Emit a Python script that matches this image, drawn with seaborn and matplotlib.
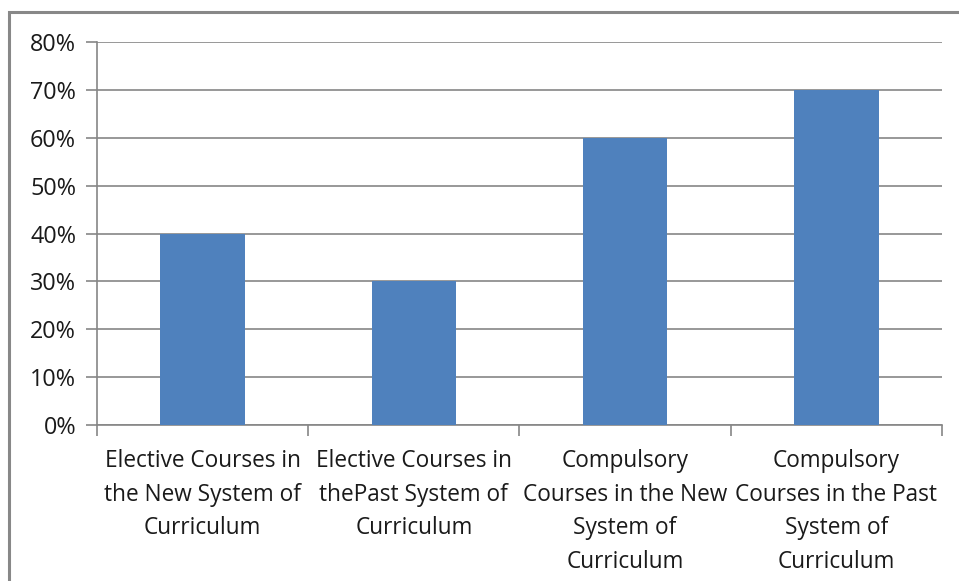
import matplotlib
matplotlib.use("Agg")
import matplotlib.pyplot as plt
import seaborn as sns
import pandas as pd
import numpy as np
from matplotlib.ticker import PercentFormatter, FixedLocator
from matplotlib.patches import Rectangle

# 数据
categories = [
    "Elective Courses in\nthe New System of\nCurriculum",
    "Elective Courses in\nthePast System of\nCurriculum",
    "Compulsory\nCourses in the New\nSystem of\nCurriculum",
    "Compulsory\nCourses in the Past\nSystem of\nCurriculum",
]
values = [40, 30, 60, 70]
y_ticks = [0, 10, 20, 30, 40, 50, 60, 70, 80]

df = pd.DataFrame({"category": categories, "value": values})

sns.set_style("white")
plt.rcParams["font.family"] = ["Open Sans", "DejaVu Sans"]

fig = plt.figure(figsize=(9.59, 5.81), dpi=100)
ax = fig.add_axes([0.1011, 0.2685, 0.8812, 0.6592])

# 外框（左、上）
fig.patches.append(Rectangle((9 / 959, -0.05), 1.2, 1 - 12 / 581 + 0.05,
                             transform=fig.transFigure, fill=False,
                             edgecolor="#888888", linewidth=2.2, zorder=0))

sns.barplot(data=df, x="category", y="value", color="#4F81BD",
            width=0.4, saturation=1, linewidth=0, ax=ax, zorder=3)

ax.set_ylim(0, 80)
ax.set_xlim(-0.5, 3.5)
ax.yaxis.set_major_locator(FixedLocator(y_ticks))
ax.yaxis.set_major_formatter(PercentFormatter(decimals=0))
ax.yaxis.grid(True, color="#868686", linewidth=1.2, zorder=0)
ax.set_axisbelow(True)

# 分类间的刻度
ax.xaxis.set_minor_locator(FixedLocator(np.arange(-0.5, 4, 1)))
ax.tick_params(axis="x", which="major", length=0, pad=17, labelsize=16.3,
               labelcolor="#1a1a1a")
ax.tick_params(axis="x", which="minor", length=8, width=1.2, color="#868686",
               direction="out", bottom=True)
ax.tick_params(axis="y", length=8, width=1.2, color="#868686", pad=7,
               labelsize=16.8, labelcolor="#1a1a1a", left=True)
for lbl in ax.get_xticklabels():
    lbl.set_linespacing(1.55)

for side in ["top", "right"]:
    ax.spines[side].set_visible(False)
for side in ["left", "bottom"]:
    ax.spines[side].set_color("#868686")
    ax.spines[side].set_linewidth(1.2)

ax.set_xlabel("")
ax.set_ylabel("")

fig.savefig("out.png", dpi=100)
